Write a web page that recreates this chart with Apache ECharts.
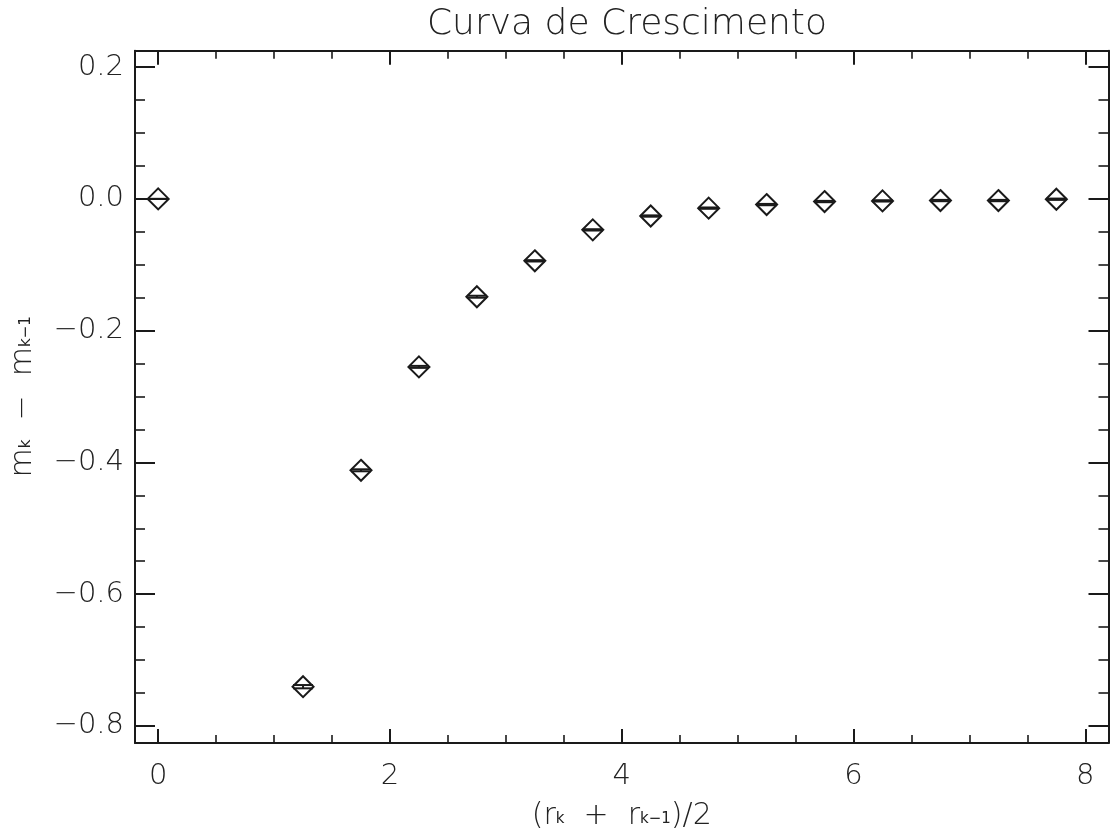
<!DOCTYPE html>
<html>
<head>
<meta charset="utf-8">
<script src="https://cdn.jsdelivr.net/npm/echarts@6/dist/echarts.min.js"></script>
<style>html,body{margin:0;padding:0;background:#fff;}#c{width:1110px;height:836px;}</style>
</head>
<body>
<div id="c"></div>
<script>
// ---- data ----
const titleText = 'Curva de Crescimento';
const xValues = [0, 1.25, 1.75, 2.25, 2.75, 3.25, 3.75, 4.25, 4.75, 5.25, 5.75, 6.25, 6.75, 7.25, 7.75];
const yValues = [0.0, -0.7405, -0.412, -0.255, -0.1485, -0.094, -0.047, -0.026, -0.014, -0.0086, -0.004, -0.003, -0.0025, -0.0025, -0.0005];
const yErrors = [0, 0.0025, 0.0015, 0.0015, 0.0015, 0.001, 0.001, 0.001, 0.001, 0.001, 0.001, 0.001, 0.001, 0.001, 0.001];
const xRange = [-0.2, 8.2];
const yRange = [-0.826, 0.225];

const FONT = 'DejaVu Sans';
const INK = '#1a1a1a';
const points = xValues.map((x, i) => [x, yValues[i], yErrors[i]]);

const chart = echarts.init(document.getElementById('c'), null, {renderer: 'canvas'});

function frameAxis(pos, isX, showLabels, majorLen, minorLen) {
  return {
    type: 'value',
    position: pos,
    min: isX ? xRange[0] : yRange[0],
    max: isX ? xRange[1] : yRange[1],
    minInterval: isX ? 2 : 0.2,
    maxInterval: isX ? 2 : 0.2,
    splitNumber: 5,
    axisLine: {show: true, onZero: false, lineStyle: {color: INK, width: 2}},
    axisTick: {show: true, inside: true, length: majorLen, lineStyle: {color: INK, width: 2}},
    minorTick: {show: true, splitNumber: 4, length: minorLen, lineStyle: {color: INK, width: 1.6}},
    splitLine: {show: false},
    minorSplitLine: {show: false},
    axisLabel: {
      show: showLabels,
      showMinLabel: false,
      showMaxLabel: false,
      margin: isX ? 19 : 11,
      fontFamily: FONT,
      fontWeight: 300,
      fontSize: 29,
      color: '#222',
      formatter: v => (isX ? String(v) : v.toFixed(1)).replace('-', '\u2212')
    }
  };
}

const richName = {
  n: {fontFamily: FONT, fontWeight: 300, fontSize: 30, color: '#222', lineHeight: 34, verticalAlign: 'bottom'},
  s: {fontFamily: FONT, fontWeight: 'normal', fontSize: 15, color: '#222', lineHeight: 20, verticalAlign: 'bottom', padding: [0, 0, 4, 0]}
};

const xBottom = frameAxis('bottom', true, true, 14, 8);
xBottom.name = '{n|(r}{s|k}{n|  +  r}{s|k\u22121}{n|)/2}';
xBottom.nameLocation = 'middle';
xBottom.nameGap = 54;
xBottom.nameTextStyle = {rich: richName};
const xTop = frameAxis('top', true, false, 14, 8);
const yLeft = frameAxis('left', false, true, 20, 10);
yLeft.name = '{n|m}{s|k}{n|  \u2212  m}{s|k\u22121}';
yLeft.nameLocation = 'middle';
yLeft.nameGap = 97;
yLeft.nameRotate = 90;
yLeft.nameTextStyle = {rich: richName};
const yRight = frameAxis('right', false, false, 20, 10);

chart.setOption({
  animation: false,
  backgroundColor: '#fff',
  title: {
    text: titleText,
    left: 622,
    top: 2,
    textAlign: 'center',
    textStyle: {fontFamily: FONT, fontWeight: 300, fontSize: 36, color: '#222'}
  },
  grid: {left: 135, right: 1.5, top: 50.7, bottom: 91, containLabel: false},
  xAxis: [xBottom, xTop],
  yAxis: [yLeft, yRight],
  series: [
    {
      type: 'scatter',
      xAxisIndex: 0, yAxisIndex: 0,
      data: points.map(p => [p[0], p[1]]),
      symbol: 'path://M10,0 L20,10 L10,20 L0,10 Z',
      symbolSize: [21, 21],
      itemStyle: {color: 'rgba(0,0,0,0)', borderColor: INK, borderWidth: 2, opacity: 1},
      z: 3
    },
    {
      type: 'custom',
      xAxisIndex: 0, yAxisIndex: 0,
      data: points,
      encode: {x: 0, y: 1},
      renderItem: function (params, api) {
        const x = api.value(0), y = api.value(1), e = api.value(2);
        const hi = api.coord([x, y + e]);
        const lo = api.coord([x, y - e]);
        const hw = 10;
        const st = {stroke: INK, lineWidth: 2};
        return {
          type: 'group',
          children: [
            {type: 'line', shape: {x1: hi[0] - hw, y1: hi[1], x2: hi[0] + hw, y2: hi[1]}, style: st},
            {type: 'line', shape: {x1: lo[0] - hw, y1: lo[1], x2: lo[0] + hw, y2: lo[1]}, style: st},
            {type: 'line', shape: {x1: hi[0], y1: hi[1], x2: lo[0], y2: lo[1]}, style: st}
          ]
        };
      },
      z: 4
    }
  ]
});
</script>
</body>
</html>
